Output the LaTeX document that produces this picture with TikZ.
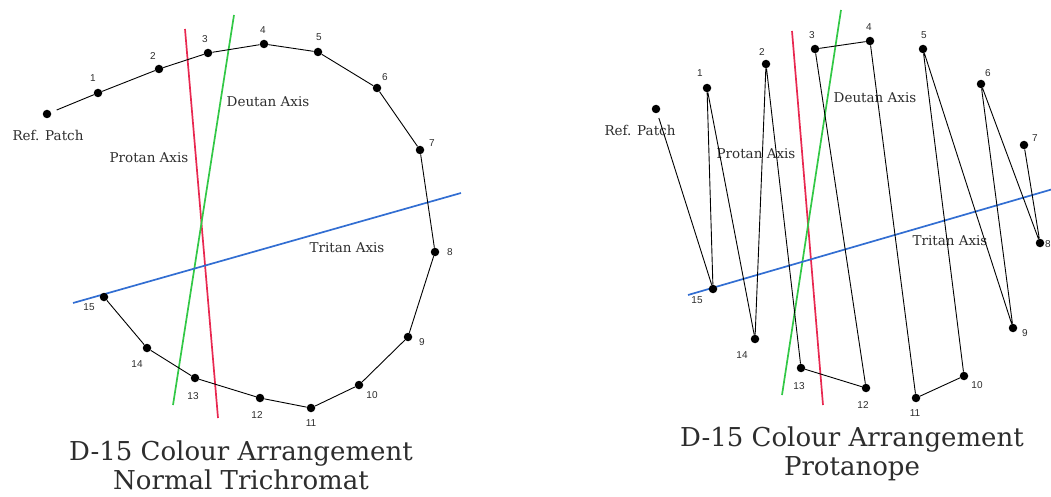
\documentclass[tikz,border=0pt]{standalone}
\usepackage{fontspec}
\setmainfont{DejaVu Serif}
\newfontfamily\numfont{Liberation Sans}
\definecolor{protanc}{RGB}{232,40,80}
\definecolor{deutanc}{RGB}{50,200,70}
\definecolor{tritanc}{RGB}{50,110,210}
\definecolor{inkc}{RGB}{45,45,45}
\begin{document}
\begin{tikzpicture}[x=1pt,y=-1pt,
  dot/.style={circle,fill=black,inner sep=0pt,minimum size=8.5pt},
  num/.style={font=\numfont\fontsize{10}{10}\selectfont,text=inkc,inner sep=0pt},
  axlab/.style={font=\fontsize{13.5}{14}\selectfont,text=inkc,inner sep=0pt},
  link/.style={draw=black,line width=0.9pt},
  axisline/.style={line width=1.7pt},
  titletext/.style={font=\fontsize{26}{29}\selectfont,align=center,text=inkc,inner sep=0pt}]
\useasboundingbox (0,0) rectangle (1051,497);

% ---------------- Left panel ----------------
\coordinate (Lpa) at (185,29);  \coordinate (Lpb) at (218,418);
\coordinate (Lda) at (234,15);  \coordinate (Ldb) at (173,405);
\coordinate (Lta) at (73,303);  \coordinate (Ltb) at (461,193);
\draw[axisline,protanc] (Lpa) -- (Lpb);
\draw[axisline,deutanc] (Lda) -- (Ldb);
\draw[axisline,tritanc] (Lta) -- (Ltb);

\node[axlab] (Llref) at (48,135) {Ref. Patch};
\node[axlab] (Llpro) at (149,158) {Protan Axis};
\node[axlab] (Lldeu) at (268,102) {Deutan Axis};
\node[axlab] (Lltri) at (347,248) {Tritan Axis};

\node[dot] (LR) at (47,114) {};
\node[dot] (L1) at (98,93) {};
\node[dot] (L2) at (159,69) {};
\node[dot] (L3) at (208,53) {};
\node[dot] (L4) at (264,44) {};
\node[dot] (L5) at (318,52) {};
\node[dot] (L6) at (377,88) {};
\node[dot] (L7) at (420,150) {};
\node[dot] (L8) at (435,252) {};
\node[dot] (L9) at (408,337) {};
\node[dot] (L10) at (359,385) {};
\node[dot] (L11) at (311,408) {};
\node[dot] (L12) at (260,398) {};
\node[dot] (L13) at (195,378) {};
\node[dot] (L14) at (147,348) {};
\node[dot] (L15) at (104,297) {};

\draw[link,shorten <=6pt] (LR) -- (L1);
\draw[link] (L1) -- (L2) -- (L3) -- (L4) -- (L5) -- (L6) -- (L7) -- (L8)
  -- (L9) -- (L10) -- (L11) -- (L12) -- (L13) -- (L14) -- (L15);

\node[num] (Ln1) at (93,78) {1};
\node[num] (Ln2) at (153,56) {2};
\node[num] (Ln3) at (205,39) {3};
\node[num] (Ln4) at (263,30) {4};
\node[num] (Ln5) at (319,37) {5};
\node[num] (Ln6) at (385,77) {6};
\node[num] (Ln7) at (432,143) {7};
\node[num] (Ln8) at (450,252) {8};
\node[num] (Ln9) at (422,342) {9};
\node[num] (Ln10) at (372,395) {10};
\node[num] (Ln11) at (311,423) {11};
\node[num] (Ln12) at (257,415) {12};
\node[num] (Ln13) at (193,396) {13};
\node[num] (Ln14) at (137,364) {14};
\node[num] (Ln15) at (89,307) {15};

\node[titletext] (Ltitle) at (241,465) {D-15 Colour Arrangement\\Normal Trichromat};

% ---------------- Right panel ----------------
\node[axlab] (Rlref) at (640,130) {Ref. Patch};
\node[axlab] (Rlpro) at (756,154) {Protan Axis};
\node[axlab] (Rldeu) at (875,98) {Deutan Axis};
\node[axlab] (Rltri) at (950,241) {Tritan Axis};

\coordinate (Rpa) at (792,31);  \coordinate (Rpb) at (823,405);
\coordinate (Rda) at (841,10);  \coordinate (Rdb) at (782,395);
\coordinate (Rta) at (688,295); \coordinate (Rtb) at (1060,187);
\draw[axisline,protanc] (Rpa) -- (Rpb);
\draw[axisline,deutanc] (Rda) -- (Rdb);
\draw[axisline,tritanc] (Rta) -- (Rtb);

\node[dot] (RR) at (656,109) {};
\node[dot] (R1) at (707,88) {};
\node[dot] (R2) at (766,64) {};
\node[dot] (R3) at (815,49) {};
\node[dot] (R4) at (870,41) {};
\node[dot] (R5) at (923,49) {};
\node[dot] (R6) at (981,84) {};
\node[dot] (R7) at (1024,145) {};
\node[dot] (R8) at (1040,243) {};
\node[dot] (R9) at (1013,328) {};
\node[dot] (R10) at (964,376) {};
\node[dot] (R11) at (916,398) {};
\node[dot] (R12) at (866,388) {};
\node[dot] (R13) at (801,368) {};
\node[dot] (R14) at (755,339) {};
\node[dot] (R15) at (713,289) {};

\draw[link,shorten <=5pt] (RR) -- (R15);
\draw[link] (R15) -- (R1) -- (R14) -- (R2) -- (R13) -- (R12) -- (R3) -- (R4)
  -- (R11) -- (R10) -- (R5) -- (R9) -- (R6) -- (R8) -- (R7);

\node[num] (Rn1) at (700,73) {1};
\node[num] (Rn2) at (762,52) {2};
\node[num] (Rn3) at (812,35) {3};
\node[num] (Rn4) at (869,27) {4};
\node[num] (Rn5) at (924,35) {5};
\node[num] (Rn6) at (988,73) {6};
\node[num] (Rn7) at (1035,138) {7};
\node[num,anchor=west] (Rn8) at (1045,244) {8};
\node[num] (Rn9) at (1025,333) {9};
\node[num] (Rn10) at (977,385) {10};
\node[num] (Rn11) at (915,413) {11};
\node[num] (Rn12) at (863,405) {12};
\node[num] (Rn13) at (799,386) {13};
\node[num] (Rn14) at (742,355) {14};
\node[num] (Rn15) at (697,300) {15};

\node[titletext] (Rtitle) at (852,454) {D-15 Colour Arrangement\\Protanope};
\end{tikzpicture}
\end{document}
